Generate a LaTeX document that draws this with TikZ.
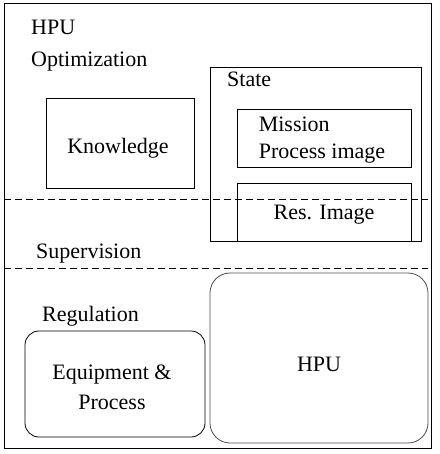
\documentclass[tikz,border=0pt]{standalone}
\usepackage{fontspec}
\setmainfont{Liberation Serif}
\usetikzlibrary{positioning}

\tikzset{
  box/.style={draw, line width=0.8pt, inner sep=0pt},
  rbox/.style={box, rounded corners=14pt},
  label text/.style={anchor=base west, inner sep=0pt},
  box text/.style={inner sep=0pt, align=center},
  sep line/.style={line width=0.8pt, dash pattern=on 7pt off 4pt}
}

\begin{document}
\begin{tikzpicture}[x=1pt,y=1pt,yscale=-1,xscale=1,
  font=\fontsize{22}{27}\selectfont]
        \useasboundingbox (0,0) rectangle (439,454);

        %Frame
        \draw [line width=0.8pt] (4,3) rectangle (431,448);
        %Dashed separators
        \draw [sep line] (4,199) -- (428,199);
        \draw [sep line] (4,268) -- (428,268);

        % Level labels
        \node [label text] (hpulbl) at (31,35) {HPU};
        \node [label text] (optlbl) at (31,67) {Optimization};
        \node [label text] (suplbl) at (36,258) {Supervision};
        \node [label text] (reglbl) at (42,321) {Regulation};

        % Optimization boxes
        \node [box, minimum width=148, minimum height=90] (know) at (120,143) {};
        \node [box text] (knowtxt) at ([xshift=-2pt,yshift=5pt]know.center) {Knowledge};
        \node [box, minimum width=211, minimum height=174] (state) at (315.5,154) {};
        \node [label text] (statelbl) at (227,87) {State};
        \node [box, minimum width=174, minimum height=58] (mission) at (324,138) {};
        \node [box text, align=left] (missiontxt) at ([xshift=-2pt,yshift=2pt]mission.center) {Mission\\Process image};
        \node [box, minimum width=174, minimum height=58] (resimg) at (324,212) {};
        \node [box text] (resimgtxt) at ([yshift=3pt]resimg.center) {Res. Image};

        % Regulation boxes
        \node [rbox, minimum width=180, minimum height=106] (equip) at (115,384) {};
        \node [box text] (equiptxt) at ([xshift=-3pt,yshift=3pt]equip.center) {Equipment \&\\[3pt]Process};
        \node [rbox, draw=black!70, rounded corners=20pt, minimum width=218, minimum height=170] (hpu) at (319,358) {};
        \node [box text] (hputxt) at ([yshift=6pt]hpu.center) {HPU};

\end{tikzpicture}
\end{document}
